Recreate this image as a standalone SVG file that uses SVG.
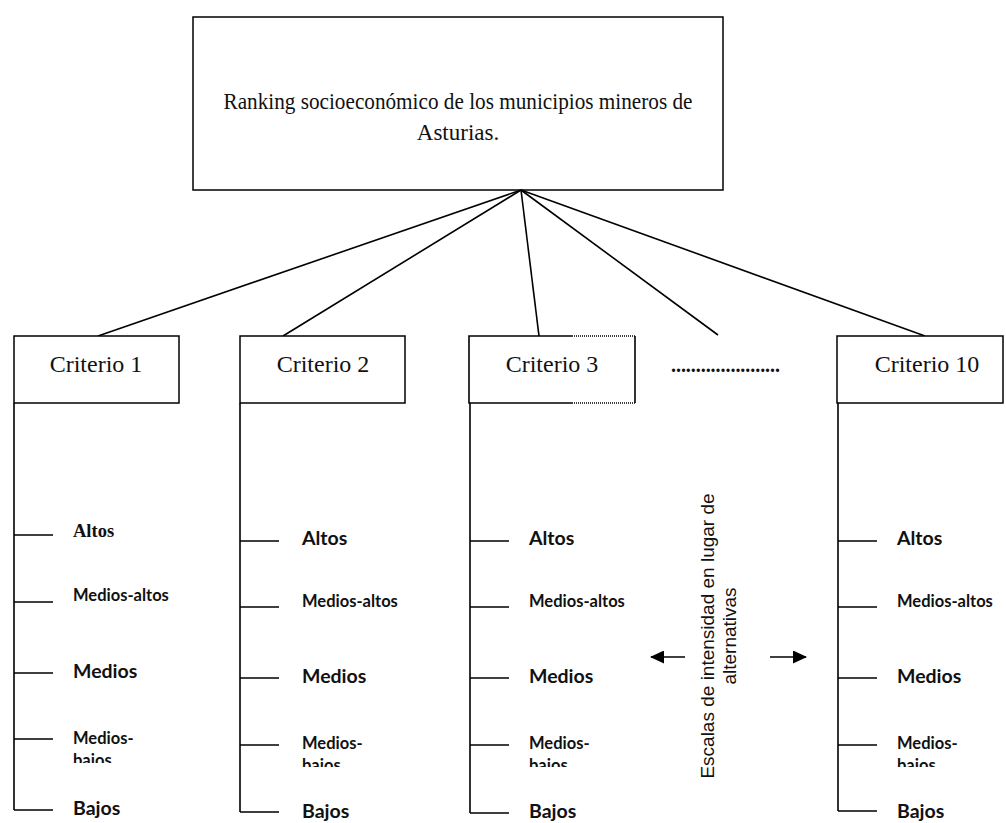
<svg xmlns="http://www.w3.org/2000/svg" width="1006" height="823" viewBox="0 0 1006 823">
<style>
.box{fill:#fff;stroke:#000;stroke-width:1.5}
.ln{stroke:#000;stroke-width:1.6;fill:none}
.dot{stroke:#000;stroke-width:1.5;stroke-dasharray:1 1;fill:none}
.ser{font-family:"Liberation Serif","DejaVu Serif",serif;fill:#111}
.crit{font-size:24px}
.lab{font-family:Lato,"Open Sans",sans-serif;font-weight:bold;fill:#111}
.s{font-size:16.5px}
.b{font-size:19.5px}
.rot{font-family:"Liberation Sans",Arial,sans-serif;font-size:19px;fill:#111}
</style>
<defs>
<marker id="ah" viewBox="0 0 14 13" refX="13" refY="6.5" markerWidth="14" markerHeight="13" markerUnits="userSpaceOnUse" orient="auto">
<path d="M0,0 L14,6.5 L0,13 z" fill="#000"/>
</marker>
<clipPath id="c1"><rect x="60" y="748" width="130" height="15"/></clipPath>
<clipPath id="c2"><rect x="290" y="752" width="130" height="15"/></clipPath>
<clipPath id="c3"><rect x="520" y="752" width="130" height="15"/></clipPath>
<clipPath id="c4"><rect x="890" y="752" width="116" height="15"/></clipPath>
</defs>

<g id="root">
<rect class="box" x="193" y="17" width="530" height="173"/>
<text class="ser" x="458" y="109" font-size="23" text-anchor="middle" textLength="469" lengthAdjust="spacingAndGlyphs">Ranking socioeconómico de los municipios mineros de</text>
<text class="ser" x="458" y="140" font-size="23" text-anchor="middle">Asturias.</text>
</g>

<g id="connectors">
<line class="ln" x1="521" y1="190" x2="98" y2="336"/>
<line class="ln" x1="521" y1="190" x2="283" y2="336"/>
<line class="ln" x1="521" y1="190" x2="539" y2="336"/>
<line class="ln" x1="521" y1="190" x2="718" y2="335"/>
<line class="ln" x1="521" y1="190" x2="925" y2="336"/>
<line class="ln" x1="685" y1="657" x2="651" y2="657" marker-end="url(#ah)"/>
<line class="ln" x1="770" y1="657" x2="806" y2="657" marker-end="url(#ah)"/>
</g>

<g id="criterio1">
<rect class="box" x="14" y="336" width="165" height="67"/>
<text class="ser crit" x="96" y="372" text-anchor="middle">Criterio 1</text>
<path class="ln" d="M14,403 V810 M14,535 H53 M14,602 H53 M14,673 H53 M14,739 H53 M14,810 H53"/>
<text class="ser" x="73" y="537" font-size="18.5" font-weight="bold">Altos</text>
<text class="lab s" x="73" y="601">Medios-altos</text>
<text class="lab b" x="73" y="678">Medios</text>
<text class="lab s" x="73" y="744">Medios-</text>
<text class="lab s" x="73" y="766" clip-path="url(#c1)">bajos</text>
<text class="lab b" x="73" y="815">Bajos</text>
</g>

<g id="criterio2">
<rect class="box" x="240" y="336" width="165" height="67"/>
<text class="ser crit" x="323" y="372" text-anchor="middle">Criterio 2</text>
<path class="ln" d="M240,403 V812 M240,541 H279 M240,607 H279 M240,678 H279 M240,745 H279 M240,812 H279"/>
<text class="lab b" x="302" y="545">Altos</text>
<text class="lab s" x="302" y="607">Medios-altos</text>
<text class="lab b" x="302" y="683">Medios</text>
<text class="lab s" x="302" y="749">Medios-</text>
<text class="lab s" x="302" y="771" clip-path="url(#c2)">bajos</text>
<text class="lab b" x="302" y="818">Bajos</text>
</g>

<g id="criterio3">
<path class="ln" d="M572,336 H469 V403 H572 M635,336 V403"/>
<path class="dot" d="M572,336 H635 M572,403 H635"/>
<text class="ser crit" x="552" y="372" text-anchor="middle">Criterio 3</text>
<path class="ln" d="M470,403 V813 M470,541 H509 M470,607 H509 M470,678 H509 M470,745 H509 M470,813 H509"/>
<text class="lab b" x="529" y="545">Altos</text>
<text class="lab s" x="529" y="607">Medios-altos</text>
<text class="lab b" x="529" y="683">Medios</text>
<text class="lab s" x="529" y="749">Medios-</text>
<text class="lab s" x="529" y="771" clip-path="url(#c3)">bajos</text>
<text class="lab b" x="529" y="818">Bajos</text>
</g>

<g id="dots">
<text class="ser" x="671" y="372" font-size="20" font-weight="bold" textLength="109" lengthAdjust="spacing">......................</text>
</g>

<g id="criterio10">
<rect class="box" x="837" y="336" width="166" height="67"/>
<text class="ser crit" x="927" y="372" text-anchor="middle">Criterio 10</text>
<path class="ln" d="M838,403 V811 M838,541 H877 M838,607 H877 M838,678 H877 M838,745 H877 M838,811 H877"/>
<text class="lab b" x="897" y="545">Altos</text>
<text class="lab s" x="897" y="607">Medios-altos</text>
<text class="lab b" x="897" y="683">Medios</text>
<text class="lab s" x="897" y="749">Medios-</text>
<text class="lab s" x="897" y="771" clip-path="url(#c4)">bajos</text>
<text class="lab b" x="897" y="818">Bajos</text>
</g>

<g id="escalas">
<text class="rot" transform="translate(714,636) rotate(-90)" text-anchor="middle">Escalas de intensidad en lugar de</text>
<text class="rot" transform="translate(736,636) rotate(-90)" text-anchor="middle">alternativas</text>
</g>
</svg>
